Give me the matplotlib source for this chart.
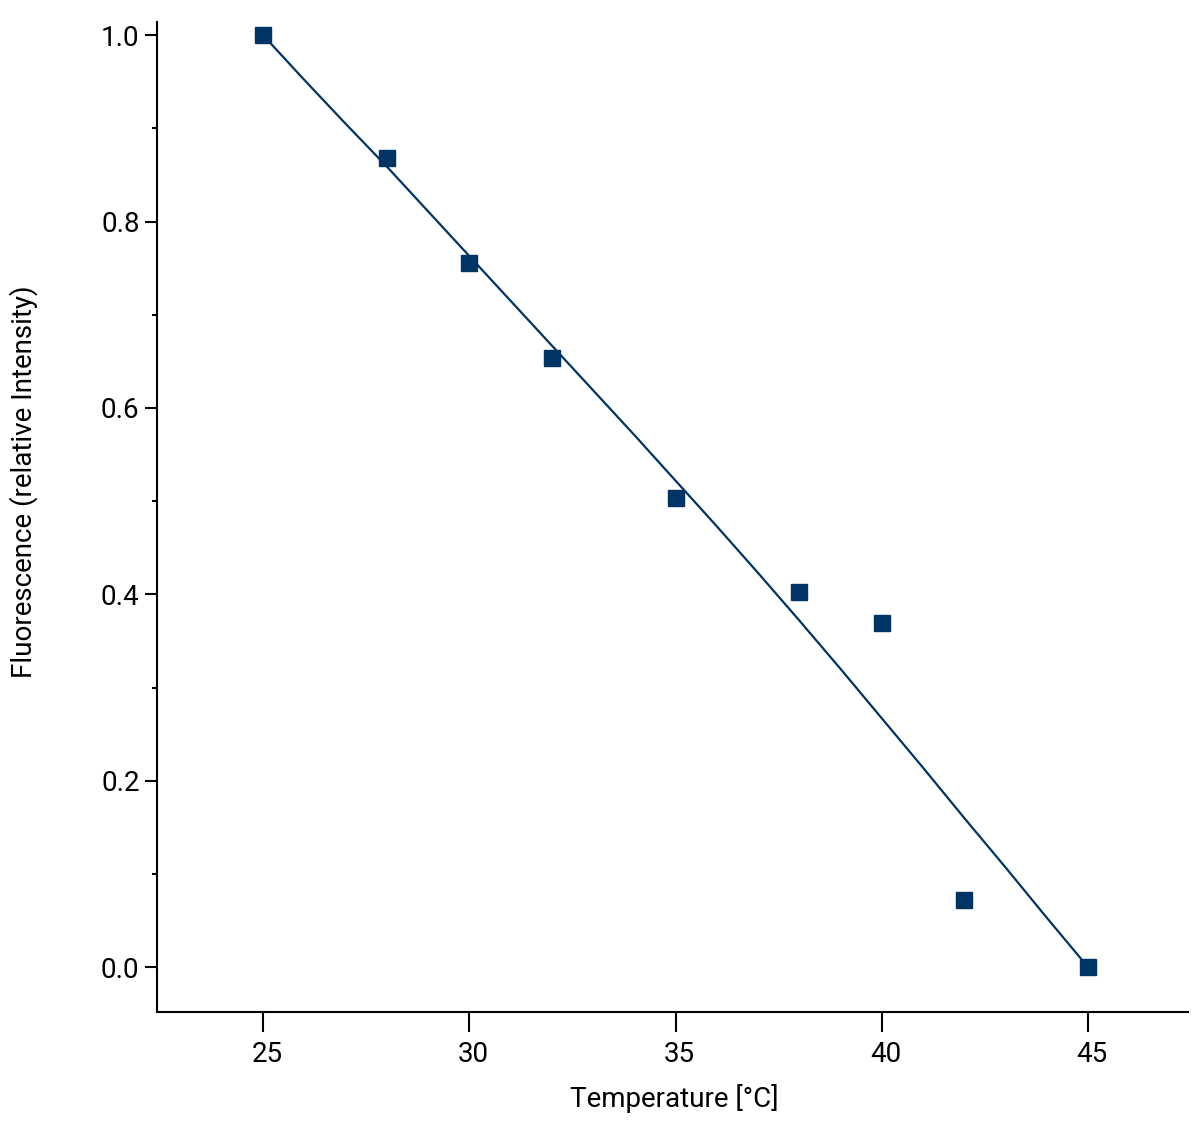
import matplotlib
matplotlib.use('Agg')
import matplotlib.pyplot as plt
import matplotlib.transforms as mtransforms
from matplotlib.ticker import MultipleLocator

# measured points
temperature = [25, 28, 30, 32, 35, 38, 40, 42, 45]
fluorescence = [1.000, 0.868, 0.756, 0.654, 0.503, 0.403, 0.369, 0.072, 0.000]

# fit curve
fit_temperature = [25, 26, 27, 28, 29, 30, 31, 32, 33, 34, 35,
                   36, 37, 38, 39, 40, 41, 42, 43, 44, 45]
fit_fluorescence = [1.000, 0.952, 0.905, 0.859, 0.811, 0.763, 0.715, 0.667, 0.619, 0.571, 0.522,
                    0.473, 0.423, 0.372, 0.320, 0.267, 0.214, 0.160, 0.107, 0.053, 0.000]

x_ticks = [25, 30, 35, 40, 45]
y_ticks = [0.0, 0.2, 0.4, 0.6, 0.8, 1.0]

color = '#003464'

plt.rcParams['font.family'] = ['Roboto', 'DejaVu Sans']

fig = plt.figure(figsize=(12, 11.3), dpi=100)
ax = fig.add_axes([0.1308, 0.1044, 0.8592, 0.8761])

ax.plot(fit_temperature, fit_fluorescence, color=color, lw=1.6, zorder=2)
ax.plot(temperature, fluorescence, 's', color=color, ms=12, mec=color, zorder=3)

ax.set_xlim(22.43, 47.42)
ax.set_ylim(-0.048, 1.014)
ax.set_xticks(x_ticks)
ax.set_yticks(y_ticks)
ax.set_yticklabels(['%.1f' % v for v in y_ticks])
ax.yaxis.set_minor_locator(MultipleLocator(0.1))

for side in ['top', 'right']:
    ax.spines[side].set_visible(False)
for side in ['left', 'bottom']:
    ax.spines[side].set_linewidth(1.5)

ax.tick_params(axis='x', which='major', direction='out', length=14.5, width=1.5,
               pad=6, labelsize=20)
ax.tick_params(axis='y', which='major', direction='out', length=8.5, width=1.5,
               pad=4, labelsize=20)
ax.tick_params(axis='y', which='minor', direction='out', length=3.6, width=1.5)

# x labels sit a little right of their ticks
offset = mtransforms.ScaledTranslation(4 / 100, 0, fig.dpi_scale_trans)
for lbl in ax.get_xticklabels():
    lbl.set_transform(lbl.get_transform() + offset)

ax.set_xlabel('Temperature [°C]', fontsize=20)
ax.set_ylabel('Fluorescence (relative Intensity)', fontsize=20)
ax.xaxis.set_label_coords(0.502, -0.073)
ax.yaxis.set_label_coords(-0.115, 0.536)

fig.savefig('out.png', dpi=100)
